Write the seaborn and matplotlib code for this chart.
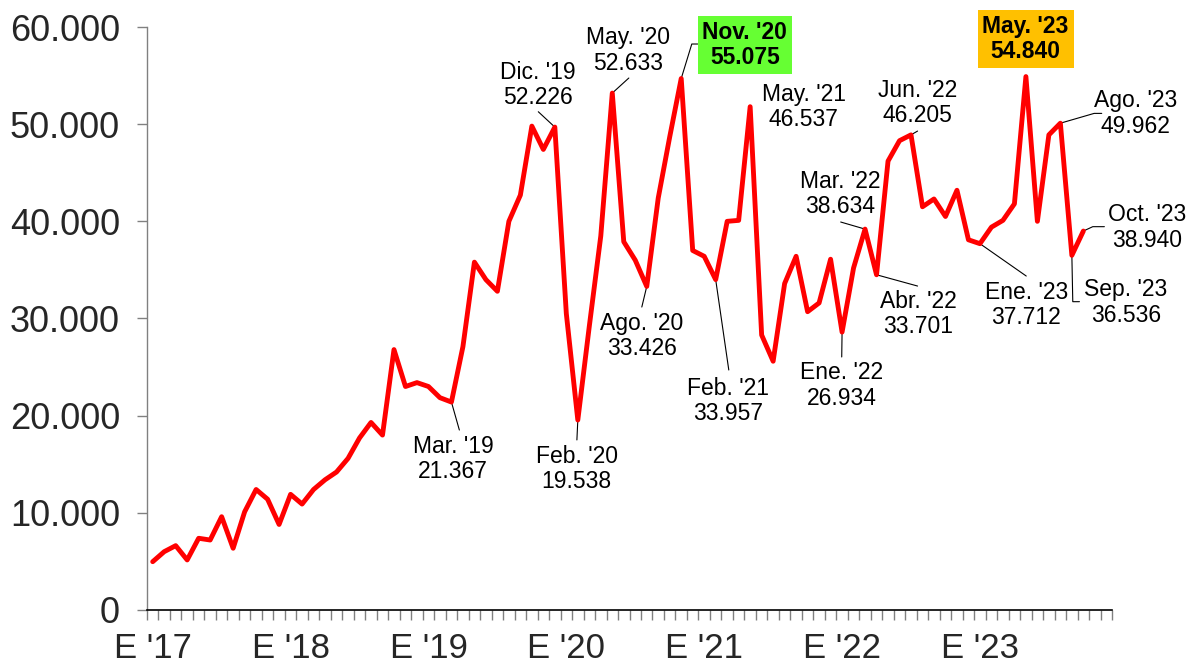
"""Serie mensual E '17 - Oct '23 con etiquetas de hitos."""
import matplotlib
matplotlib.use("Agg")
import matplotlib.pyplot as plt
import matplotlib.ticker as mticker
import numpy as np
import seaborn as sns

# valores mensuales (ene-2017 .. oct-2023)
valores = [
    4970, 6000, 6620, 5150, 7380, 7200, 9600, 6350, 10100, 12400, 11400, 8800,        # 2017
    11900, 10900, 12400, 13400, 14200, 15600, 17700, 19300, 18000, 26800, 23000, 23400,  # 2018
    23000, 21850, 21400, 27100, 35800, 34000, 32800, 40000, 42700, 49800, 47400, 49700,  # 2019
    30500, 19550, 29200, 38500, 53200, 37900, 36000, 33300, 42400, 48700, 54700, 37000,  # 2020
    36400, 34000, 40000, 40100, 51800, 28300, 25600, 33600, 36400, 30700, 31600, 36100,  # 2021
    28600, 35200, 39200, 34500, 46200, 48300, 48900, 41500, 42300, 40500, 43200, 38100,  # 2022
    37700, 39400, 40100, 41800, 54900, 40000, 48900, 50100, 36500, 39000,               # 2023
]
anios = ["E '17", "E '18", "E '19", "E '20", "E '21", "E '22", "E '23"]

# hitos etiquetados
anot_idx = [26, 35, 37, 40, 46, 43, 49, 52, 60, 62, 63, 66, 76, 79, 81, 80, 72]
anot_mes = ["Mar. '19", "Dic. '19", "Feb. '20", "May. '20", "Nov. '20", "Ago. '20",
            "Feb. '21", "May. '21", "Ene. '22", "Mar. '22", "Abr. '22", "Jun. '22",
            "May. '23", "Ago. '23", "Oct. '23", "Sep. '23", "Ene. '23"]
anot_valor = ["21.367", "52.226", "19.538", "52.633", "55.075", "33.426",
              "33.957", "46.537", "26.934", "38.634", "33.701", "46.205",
              "54.840", "49.962", "38.940", "36.536", "37.712"]

# layout: posición del texto y quiebres de la línea guía (coords. de datos)
layout = [
    ((26.14, 15540), [(26.69, 18520)]),
    ((33.53, 54030), [(33.56, 51280)]),
    ((36.90, 14510), [(36.92, 17500)]),
    ((41.38, 57580), [(41.44, 54750)]),
    ((51.53, 58150), [(46.92, 58250), (47.44, 58250)]),
    ((42.55, 28200), [(42.57, 31180)]),
    ((50.08, 21510), [(50.14, 24700)]),
    ((56.66, 51760), []),
    ((59.94, 23100), [(59.97, 26040)]),
    ((59.85, 42810), [(59.88, 39930)]),
    ((66.60, 30460), [(66.57, 33340)]),
    ((66.60, 52180), [(66.57, 49290)]),
    ((75.97, 58760), []),
    ((85.53, 51100), [(81.94, 51110), (82.60, 51110)]),
    ((86.57, 39360), [(81.82, 39450), (82.83, 39450)]),
    ((84.72, 31650), [(80.08, 31730), (80.66, 31730)]),
    ((76.03, 31390), [(76.03, 34370)]),
]
destacados = {"Nov. '20": "#66FF33", "May. '23": "#FFC000"}

sns.set_theme(style="white")
plt.rcParams["font.family"] = ["Liberation Sans", "DejaVu Sans"]

fig = plt.figure(figsize=(11.89, 6.67), dpi=100)
ax = fig.add_axes([0.1236, 0.0855, 0.9353 - 0.1236, 0.9595 - 0.0855])

x = np.arange(len(valores))
sns.lineplot(x=x, y=valores, color="#FF0000", linewidth=3.5, ax=ax)
ax.lines[0].set_solid_joinstyle("round")

ax.set_xlim(-0.5, 83.5)
ax.set_ylim(0, 60000)

# eje y
ax.yaxis.set_major_locator(mticker.MultipleLocator(10000))
ax.yaxis.set_major_formatter(mticker.FuncFormatter(lambda v, p: f"{v:,.0f}".replace(",", ".")))
ax.tick_params(axis="y", left=True, direction="out", length=7.5, width=1,
               color="#808080", labelsize=26, pad=12)

# eje x: marcas por mes, etiquetas en enero
ax.set_xticks(np.arange(0, 84, 12))
ax.set_xticklabels(anios)
ax.set_xticks(np.arange(-0.5, 84, 1), minor=True)
ax.tick_params(axis="x", which="major", bottom=True, length=0, labelsize=25, pad=16)
ax.tick_params(axis="x", which="minor", bottom=True, direction="out", length=7.5,
               width=1, color="#808080")

for lado in ["top", "right"]:
    ax.spines[lado].set_visible(False)
ax.spines["left"].set_color("#808080")
ax.spines["left"].set_linewidth(1)
ax.spines["bottom"].set_color("black")
ax.spines["bottom"].set_linewidth(1.2)
ax.grid(False)

for i, mes, val, ((tx, ty), quiebres) in zip(anot_idx, anot_mes, anot_valor, layout):
    if quiebres:
        px = [i] + [q[0] for q in quiebres]
        py = [valores[i]] + [q[1] for q in quiebres]
        ax.plot(px, py, color="black", linewidth=0.8, zorder=1)
    kw = dict(ha="center", va="center", multialignment="center", fontsize=16.5,
              color="black", linespacing=1.15)
    if mes in destacados:
        kw.update(fontweight="bold",
                  bbox=dict(facecolor=destacados[mes], edgecolor="none", pad=3.5))
    ax.text(tx, ty, f"{mes}\n{val}", **kw)

fig.savefig("out.png", dpi=100)
